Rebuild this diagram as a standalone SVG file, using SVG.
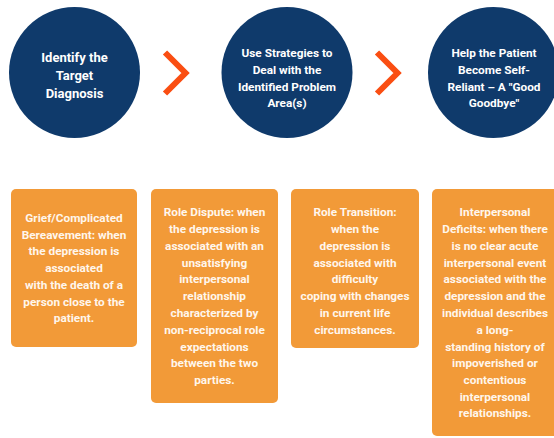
<svg xmlns="http://www.w3.org/2000/svg" width="554" height="438" viewBox="0 0 554 438">
<style>
.c{fill:#0F3A6B}
.b{fill:#F29A38}
.ch{fill:none;stroke:#FA4E12;stroke-width:6;stroke-linejoin:miter}
text{font-family:Roboto,"Liberation Sans",sans-serif;font-weight:700;text-anchor:middle;fill:#FFFFFF}
.t1{font-size:13px}
.t2{font-size:11.8px}
.t3{font-size:11.8px;fill:#FFF6EC}
</style>
<rect width="554" height="438" fill="#FFFFFF"/>
<g id="step1">
<circle class="c" cx="74.5" cy="72.5" r="65.5"/>
<text class="t1" x="74.5" y="62">Identify the</text>
<text class="t1" x="74.5" y="80">Target</text>
<text class="t1" x="74.5" y="98">Diagnosis</text>
</g>
<g id="step2">
<circle class="c" cx="287" cy="72.5" r="65.5"/>
<text class="t2" x="287" y="57">Use Strategies to</text>
<text class="t2" x="287" y="74">Deal with the</text>
<text class="t2" x="287" y="90.5">Identified Problem</text>
<text class="t2" x="287" y="107">Area(s)</text>
</g>
<g id="step3">
<circle class="c" cx="493.5" cy="72.5" r="65.5"/>
<text class="t2" x="494" y="57">Help the Patient</text>
<text class="t2" x="494" y="74">Become Self-</text>
<text class="t2" x="494" y="90.5">Reliant – A "Good</text>
<text class="t2" x="494" y="107">Goodbye"</text>
</g>
<g id="connectors">
<polyline class="ch" points="165,52.5 185.5,73 165,93.5"/>
<polyline class="ch" points="377,52.5 397.5,73 377,93.5"/>
</g>
<g id="grief">
<rect class="b" x="11" y="189" width="126" height="158" rx="5"/>
<text class="t3" x="74" y="222">Grief/Complicated</text>
<text class="t3" x="74" y="238.5">Bereavement: when</text>
<text class="t3" x="74" y="255">the depression is</text>
<text class="t3" x="74" y="272">associated</text>
<text class="t3" x="74" y="289">with the death of a</text>
<text class="t3" x="74" y="305.5">person close to the</text>
<text class="t3" x="74" y="322">patient.</text>
</g>
<g id="dispute">
<rect class="b" x="151" y="189" width="127" height="214" rx="5"/>
<text class="t3" x="214.5" y="216">Role Dispute: when</text>
<text class="t3" x="214.5" y="233">the depression is</text>
<text class="t3" x="214.5" y="250">associated with an</text>
<text class="t3" x="214.5" y="266.5">unsatisfying</text>
<text class="t3" x="214.5" y="283">interpersonal</text>
<text class="t3" x="214.5" y="300">relationship</text>
<text class="t3" x="214.5" y="317">characterized by</text>
<text class="t3" x="214.5" y="334">non-reciprocal role</text>
<text class="t3" x="214.5" y="350.5">expectations</text>
<text class="t3" x="214.5" y="367">between the two</text>
<text class="t3" x="214.5" y="384">parties.</text>
</g>
<g id="transition">
<rect class="b" x="291" y="189" width="128" height="159" rx="5"/>
<text class="t3" x="355" y="216">Role Transition:</text>
<text class="t3" x="355" y="233">when the</text>
<text class="t3" x="355" y="250">depression is</text>
<text class="t3" x="355" y="266.5">associated with</text>
<text class="t3" x="355" y="283">difficulty</text>
<text class="t3" x="355" y="300">coping with changes</text>
<text class="t3" x="355" y="317">in current life</text>
<text class="t3" x="355" y="334">circumstances.</text>
</g>
<g id="deficits">
<rect class="b" x="432" y="189" width="127" height="247" rx="5"/>
<text class="t3" x="495" y="216">Interpersonal</text>
<text class="t3" x="495" y="233">Deficits: when there</text>
<text class="t3" x="495" y="250">is no clear acute</text>
<text class="t3" x="495" y="266.5">interpersonal event</text>
<text class="t3" x="495" y="283">associated with the</text>
<text class="t3" x="495" y="300">depression and the</text>
<text class="t3" x="495" y="317">individual describes</text>
<text class="t3" x="495" y="334">a long-</text>
<text class="t3" x="495" y="350.5">standing history of</text>
<text class="t3" x="495" y="367">impoverished or</text>
<text class="t3" x="495" y="384">contentious</text>
<text class="t3" x="495" y="400.5">interpersonal</text>
<text class="t3" x="495" y="417">relationships.</text>
</g>
</svg>
